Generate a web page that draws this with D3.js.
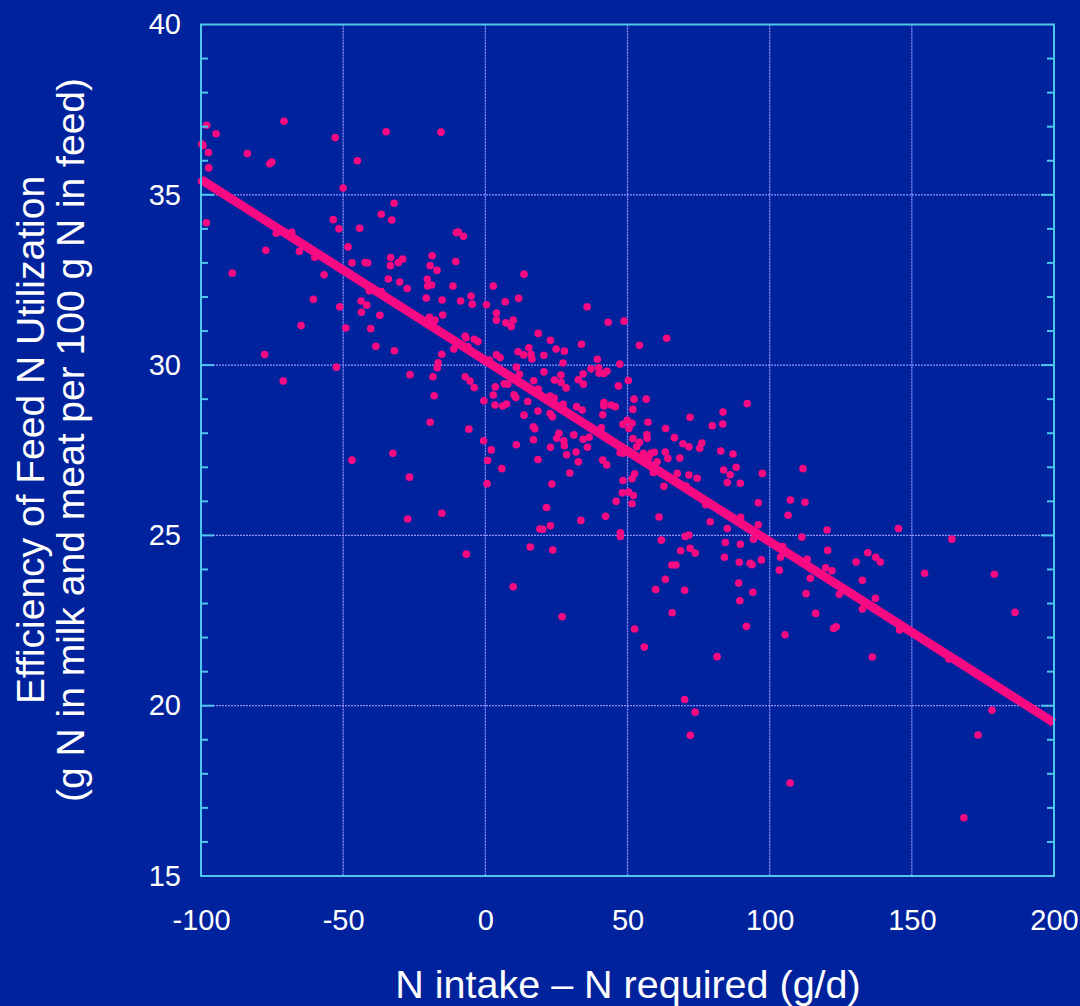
<!DOCTYPE html>
<html>
<head>
<meta charset="utf-8">
<script src="https://cdn.jsdelivr.net/npm/d3@7"></script>
<style>
  html, body { margin: 0; padding: 0; background: #00229c; }
  svg { display: block; }
  text { font-family: "Liberation Sans", Arial, Helvetica, sans-serif; fill: #ffffff; }
</style>
</head>
<body>
<svg id="chart" width="1080" height="1006"></svg>
<script>
// N balance (intake minus requirement, g/d) for each herd observation
const nSurplus = [
  -98.0,-94.7,-70.8,-99.7,-99.3,-97.4,-83.7,-75.8,-75.1,-97.3,-52.8,-34.9,-45.0,-50.0,-32.1,-98.1,-53.5,-51.5,-44.2,-36.6,
  -32.9,-73.5,-68.1,-77.2,-65.4,-60.0,-48.3,-46.9,-42.3,-41.4,-33.3,-33.4,-89.0,-56.7,-34.1,-40.8,-36.6,-43.7,-41.7,-43.6,
  -51.2,-60.5,-37.1,-40.3,-49.1,-64.8,-38.5,-77.6,-52.4,-32.0,-71.1,-46.9,-32.5,-10.2,-9.5,-7.7,-30.6,-29.1,-18.7,-19.4,
  -10.4,-17.0,-30.1,-27.5,-20.4,-20.3,-18.9,-11.4,-20.8,-15.2,-8.7,-5.0,-4.6,0.4,2.8,13.6,7.0,11.7,3.9,3.9,
  7.2,9.1,9.8,18.6,-19.7,-17.7,-15.0,-7.1,-6.8,-3.9,-2.6,-11.1,-6.1,-15.3,-16.6,-16.9,-26.5,-18.4,-7.1,-5.4,
  -3.9,1.4,3.9,5.2,11.5,15.3,13.5,16.1,16.4,10.9,12.0,17.0,6.6,7.9,3.5,18.6,-18.0,2.8,-0.5,3.4,
  6.1,7.5,10.1,10.7,14.9,13.6,18.5,16.9,17.4,16.9,10.9,-19.4,-5.8,-0.6,2.1,0.8,5.8,18.5,0.6,-26.7,
  -15.3,-27.3,-6.7,15.8,9.8,19.2,35.8,43.2,48.8,63.8,54.2,22.9,24.9,27.8,33.8,20.6,27.3,39.4,37.2,39.9,
  40.0,41.7,42.8,47.3,20.6,24.3,26.6,26.7,28.4,34.4,32.7,34.5,50.3,46.8,22.8,24.2,27.4,22.8,23.6,32.1,
  34.1,41.7,41.7,44.2,45.7,41.3,52.3,56.6,51.9,57.2,63.4,66.5,72.0,48.4,49.9,51.6,50.5,40.8,25.9,31.1,
  36.5,34.4,56.8,51.9,25.1,27.6,22.9,27.8,28.6,31.9,32.7,35.9,41.3,42.7,29.7,23.4,54.2,56.9,53.2,69.5,
  71.6,47.4,48.5,55.6,57.5,58.3,59.4,60.4,63.3,64.2,68.4,59.1,67.5,71.6,52.5,51.6,48.4,62.8,48.2,50.4,
  52.1,46.0,51.6,21.5,33.6,42.3,20.2,22.9,61.1,47.5,47.5,23.7,61.9,68.7,70.3,71.6,72.0,65.6,67.0,63.3,
  59.9,70.1,65.7,27.0,52.5,55.9,92.1,83.6,79.8,83.5,76.1,75.4,82.8,87.1,88.2,83.8,86.1,97.4,85.1,89.7,
  111.7,74.5,70.6,107.3,112.4,96.0,106.5,77.5,79.1,89.8,85.1,96.0,120.2,111.3,84.4,89.7,94.3,104.6,120.4,73.8,
  84.1,103.8,113.2,97.1,89.3,93.1,93.8,103.4,119.7,121.9,114.3,89.1,94.1,89.5,91.8,105.4,112.8,116.2,122.5,123.4,
  81.5,70.1,73.8,72.1,145.3,164.1,134.5,137.3,138.9,130.4,132.6,154.5,179.0,186.3,124.5,137.2,132.6,145.7,136.1,163.0,
  178.2,173.3,168.3,-15.6,107.2,-99.8
];

// Efficiency of feed N utilization (g N in milk and meat per 100 g N in feed), same order
const efficiency = [
  37.04,36.79,37.16,36.49,36.45,36.24,36.21,35.91,35.96,35.79,36.68,36.85,36.00,35.20,34.75,34.18,34.27,34.00,34.02,34.43,
  34.26,33.87,33.90,33.37,33.34,33.17,33.47,33.00,33.01,33.00,33.16,32.92,32.70,32.65,32.53,32.18,32.16,31.88,31.76,31.55,
  31.71,31.93,31.46,31.07,31.09,31.16,30.55,30.31,29.94,30.42,29.53,27.21,27.41,33.89,33.91,33.78,33.01,33.11,33.21,32.92,
  33.04,32.78,32.44,32.25,32.52,32.32,32.35,32.32,31.97,31.91,31.88,32.03,31.79,31.77,32.32,32.67,31.86,31.96,31.53,31.32,
  31.24,31.13,31.32,30.93,31.40,31.32,31.47,30.85,30.80,30.76,30.69,30.47,30.54,30.32,30.07,29.92,29.72,29.66,29.66,29.53,
  29.34,30.15,30.30,30.22,30.39,30.51,30.30,30.32,30.18,29.94,29.73,29.54,29.45,29.44,29.36,29.30,29.10,29.12,28.95,28.83,
  28.80,28.86,29.13,29.05,28.93,28.53,28.65,28.19,28.13,27.81,27.66,28.32,28.12,27.78,27.51,27.20,26.96,27.23,26.52,26.71,
  25.65,25.48,24.45,24.66,23.49,25.19,31.71,31.26,31.29,30.79,30.58,30.73,30.47,30.41,30.61,30.29,30.06,30.17,29.89,29.92,
  29.76,29.75,29.82,30.03,29.80,29.56,29.71,29.49,29.33,29.74,29.57,29.44,29.55,29.39,29.09,29.03,28.85,28.58,28.48,28.78,
  28.68,28.90,28.80,28.83,28.78,28.54,29.00,29.00,28.70,28.32,28.14,27.87,28.47,28.26,28.38,28.29,28.14,28.16,28.00,27.95,
  27.88,27.82,27.96,27.84,27.85,27.78,27.59,27.63,27.37,27.45,27.16,27.59,27.21,27.07,26.83,26.51,27.73,27.85,27.60,27.69,
  27.60,27.43,27.41,27.41,27.29,27.41,27.44,27.16,27.45,27.26,27.27,26.85,26.82,26.77,26.81,26.66,26.61,26.44,26.25,26.27,
  26.17,26.00,25.93,25.82,25.44,25.56,25.18,25.28,25.54,25.08,24.97,24.57,24.86,24.55,24.97,25.01,24.62,24.13,24.13,23.71,
  23.41,23.39,22.73,22.61,22.25,21.72,28.87,28.62,28.22,28.27,27.71,27.56,27.48,27.39,27.00,26.92,26.78,26.82,26.55,26.53,
  26.96,26.68,26.45,26.04,25.97,25.96,25.59,25.90,25.40,25.53,25.20,25.31,25.16,24.95,24.79,24.74,24.89,24.67,24.56,24.48,
  24.36,24.36,24.30,24.28,24.21,24.18,24.14,23.98,24.05,23.96,23.74,23.60,23.33,23.08,22.33,22.08,23.29,22.71,22.27,22.32,
  21.44,20.18,19.81,19.13,25.20,24.89,24.49,24.36,24.22,24.22,23.68,23.89,23.86,22.74,23.27,23.15,22.84,22.22,21.43,21.37,
  19.87,19.14,16.71,36.84,17.73,35.40
];

// Fitted regression line end points
const fitX = [-100, 200];
const fitY = [35.45, 19.5];

// Axis ticks
const xTicks = [-100, -50, 0, 50, 100, 150, 200];
const yTicks = [15, 20, 25, 30, 35, 40];
const yMinorTicks = d3.range(16, 40);

const xTitle = "N intake \u2013 N required (g/d)";
const yTitleLines = ["Efficiency of Feed N Utilization", "(g N in milk and meat per 100 g N in feed)"];

const W = 1080, H = 1006;
const plot = { left: 201, top: 24.5, right: 1054, bottom: 876 };

const BG = "#00229c";
const PINK = "#f70a82";
const GRID = "#9092fa";
const FRAME = "#4fc6ec";

const svg = d3.select("#chart");
svg.append("rect").attr("width", W).attr("height", H).attr("fill", BG);

const x = d3.scaleLinear().domain([-100, 200]).range([plot.left, plot.right]);
const y = d3.scaleLinear().domain([15, 40]).range([plot.bottom, plot.top]);

// Grid lines
const grid = svg.append("g");
grid.selectAll("line.gx").data(xTicks.slice(1, -1)).join("line")
  .attr("x1", d => x(d)).attr("x2", d => x(d))
  .attr("y1", plot.top).attr("y2", plot.bottom)
  .attr("stroke", GRID).attr("stroke-width", 1.3).attr("stroke-dasharray", "2,1");
grid.selectAll("line.gy").data(yTicks.slice(1, -1)).join("line")
  .attr("x1", plot.left).attr("x2", plot.right)
  .attr("y1", d => y(d)).attr("y2", d => y(d))
  .attr("stroke", GRID).attr("stroke-width", 1.3).attr("stroke-dasharray", "2,1");

// Scatter points
const pts = nSurplus.map((v, i) => [v, efficiency[i]]);
svg.append("g").selectAll("circle").data(pts).join("circle")
  .attr("cx", d => x(d[0])).attr("cy", d => y(d[1]))
  .attr("r", 3.8).attr("fill", PINK);

// Regression line
svg.append("line")
  .attr("x1", x(fitX[0])).attr("y1", y(fitY[0]))
  .attr("x2", x(fitX[1])).attr("y2", y(fitY[1]))
  .attr("stroke", PINK).attr("stroke-width", 9).attr("stroke-linecap", "butt");

// Frame
svg.append("rect")
  .attr("x", plot.left).attr("y", plot.top)
  .attr("width", plot.right - plot.left).attr("height", plot.bottom - plot.top)
  .attr("fill", "none").attr("stroke", FRAME).attr("stroke-width", 2);

// Inward ticks on left and right sides
const ticks = svg.append("g").attr("stroke", FRAME).attr("stroke-width", 2);
yMinorTicks.forEach(v => {
  const major = v % 5 === 0;
  const len = major ? 13 : 7;
  ticks.append("line").attr("x1", plot.left).attr("x2", plot.left + len).attr("y1", y(v)).attr("y2", y(v));
  ticks.append("line").attr("x1", plot.right).attr("x2", plot.right - len).attr("y1", y(v)).attr("y2", y(v));
});

// Axis tick labels (plain hyphen for negatives)
const plainFmt = d => String(d);
const xAxis = svg.append("g").attr("transform", `translate(0,${plot.bottom})`)
  .call(d3.axisBottom(x).tickValues(xTicks).tickSize(0).tickPadding(33).tickFormat(plainFmt));
xAxis.select(".domain").remove();
xAxis.selectAll("text").attr("font-size", 29).attr("fill", "#fff")
  .style("font-family", "'Liberation Sans', Arial, sans-serif");

const yAxis = svg.append("g").attr("transform", `translate(${plot.left},0)`)
  .call(d3.axisLeft(y).tickValues(yTicks).tickSize(0).tickPadding(20).tickFormat(plainFmt));
yAxis.select(".domain").remove();
yAxis.selectAll("text").attr("font-size", 29).attr("fill", "#fff")
  .style("font-family", "'Liberation Sans', Arial, sans-serif");

// Titles
svg.append("text").attr("x", 628).attr("y", 998).attr("text-anchor", "middle")
  .attr("font-size", 39.5).text(xTitle);

const yt = svg.append("text").attr("transform", "translate(0,440) rotate(-90)")
  .attr("text-anchor", "middle").attr("font-size", 39);
yt.append("tspan").attr("x", 0).attr("y", 44).text(yTitleLines[0]);
yt.append("tspan").attr("x", 0).attr("y", 84).text(yTitleLines[1]);
</script>
</body>
</html>
